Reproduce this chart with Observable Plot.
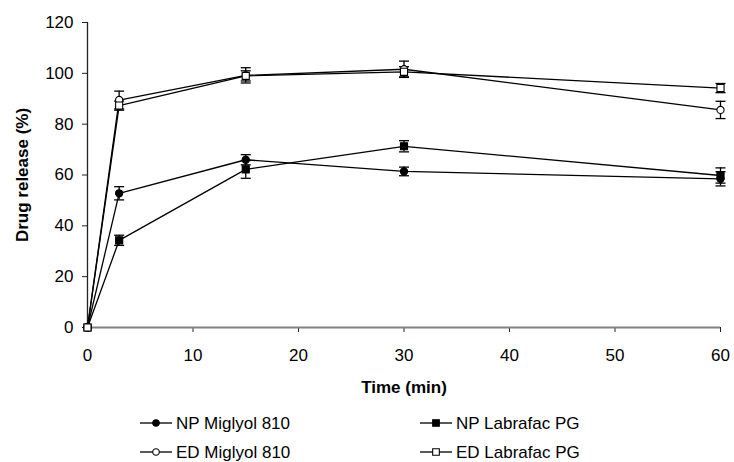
<!DOCTYPE html>
<html><head><meta charset="utf-8">
<script src="https://cdn.jsdelivr.net/npm/d3@7"></script>
<script src="https://cdn.jsdelivr.net/npm/@observablehq/plot@0.6"></script>
<style>
body{margin:0;background:#fff;font-family:"Liberation Sans",Arial,sans-serif;}
#legend{position:relative;width:734px;height:62px;}
</style>
</head><body><div id="chart"></div><div id="legend"></div><script>
const times = [0, 3, 15, 30, 60];
const seriesNames = ["NP Miglyol 810", "NP Labrafac PG", "ED Miglyol 810", "ED Labrafac PG"];
const npMiglyol = [0, 52.8, 66.0, 61.4, 58.5];
const npMiglyolErr = [0, 2.6, 2.0, 1.7, 2.8];
const npLabrafac = [0, 34.3, 62.2, 71.3, 59.8];
const npLabrafacErr = [0, 2.0, 3.5, 2.2, 3.0];
const edMiglyol = [0, 89.5, 99.2, 101.6, 85.6];
const edMiglyolErr = [0, 3.5, 3.0, 3.2, 3.4];
const edLabrafac = [0, 87.3, 99.0, 100.6, 94.2];
const edLabrafacErr = [0, 1.8, 2.0, 2.0, 1.8];
const yTicks = [0, 20, 40, 60, 80, 100, 120];
const xTicks = [0, 10, 20, 30, 40, 50, 60];

const seriesValues = [npMiglyol, npLabrafac, edMiglyol, edLabrafac];
const seriesErrs = [npMiglyolErr, npLabrafacErr, edMiglyolErr, edLabrafacErr];
const seriesShape = ["circle", "square", "circle", "square"];
const seriesFill = ["black", "black", "white", "white"];

const rows = [];
seriesNames.forEach((name, i) => {
  times.forEach((t, j) => {
    rows.push({series: name, t, v: seriesValues[i][j], lo: seriesValues[i][j] - seriesErrs[i][j], hi: seriesValues[i][j] + seriesErrs[i][j]});
  });
});
const errRows = rows.filter(d => d.hi > d.lo);

const cap = {draw(ctx, size) { ctx.moveTo(-5, 0); ctx.lineTo(5, 0); }};
const FS = 17;

const dotMarks = seriesNames.map((name, i) => Plot.dot(rows.filter(d => d.series === name), {
  x: "t", y: "v", symbol: seriesShape[i], r: seriesShape[i] === "circle" ? 3.6 : 4,
  fill: seriesFill[i], stroke: "black", strokeWidth: 1.1
}));

const chart = Plot.plot({
  width: 734, height: 400,
  marginLeft: 87, marginRight: 14, marginTop: 22, marginBottom: 73,
  style: {fontFamily: "'Liberation Sans', Arial, sans-serif", fontSize: FS + "px", background: "white", color: "black"},
  x: {domain: [0, 60]},
  y: {domain: [0, 120]},
  marks: [
    Plot.ruleX([0], {stroke: "#222", strokeWidth: 1.3}),
    Plot.axisY({ticks: yTicks, tickSize: 5, tickPadding: 9, label: null, fontSize: FS, stroke: "#222"}),
    Plot.axisX({ticks: xTicks, tickSize: 5, tickPadding: 16, label: null, fontSize: FS, stroke: "#222"}),
    Plot.ruleY([0], {stroke: "#808080", strokeWidth: 2.2}),
    Plot.text(["Time (min)"], {frameAnchor: "bottom", dy: 60, lineAnchor: "middle", textAnchor: "middle", fontWeight: "bold", fontSize: FS}),
    Plot.text(["Drug release (%)"], {frameAnchor: "left", dx: -65, rotate: -90, textAnchor: "middle", lineAnchor: "middle", fontWeight: "bold", fontSize: FS}),
    Plot.line(rows, {x: "t", y: "v", z: "series", stroke: "black", strokeWidth: 1.3}),
    Plot.ruleX(errRows, {x: "t", y1: "lo", y2: "hi", stroke: "black", strokeWidth: 1.3}),
    Plot.dot(errRows, {x: "t", y: "lo", symbol: cap, stroke: "black", fill: "none", strokeWidth: 1.3}),
    Plot.dot(errRows, {x: "t", y: "hi", symbol: cap, stroke: "black", fill: "none", strokeWidth: 1.3}),
    ...dotMarks
  ]
});
document.getElementById("chart").appendChild(chart);

// legend
const lg = d3.select("#legend").append("svg").attr("width", 734).attr("height", 62)
  .style("font-family", "'Liberation Sans', Arial, sans-serif");
const pos = [[140, 23], [420, 23], [140, 52], [420, 52]];
seriesNames.forEach((name, i) => {
  const [x0, yc] = pos[i];
  const g = lg.append("g");
  g.append("line").attr("x1", x0).attr("x2", x0 + 32).attr("y1", yc).attr("y2", yc).attr("stroke", "black").attr("stroke-width", 1.3);
  const sym = d3.symbol(seriesShape[i] === "circle" ? d3.symbolCircle : d3.symbolSquare, seriesShape[i] === "circle" ? Math.PI * 3.3 * 3.3 : 44)();
  g.append("path").attr("d", sym).attr("transform", `translate(${x0 + 16},${yc})`).attr("fill", seriesFill[i]).attr("stroke", "black").attr("stroke-width", 1.1);
  g.append("text").attr("x", x0 + 36).attr("y", yc).attr("dy", "0.35em").attr("font-size", FS).text(name);
});
</script></body></html>
